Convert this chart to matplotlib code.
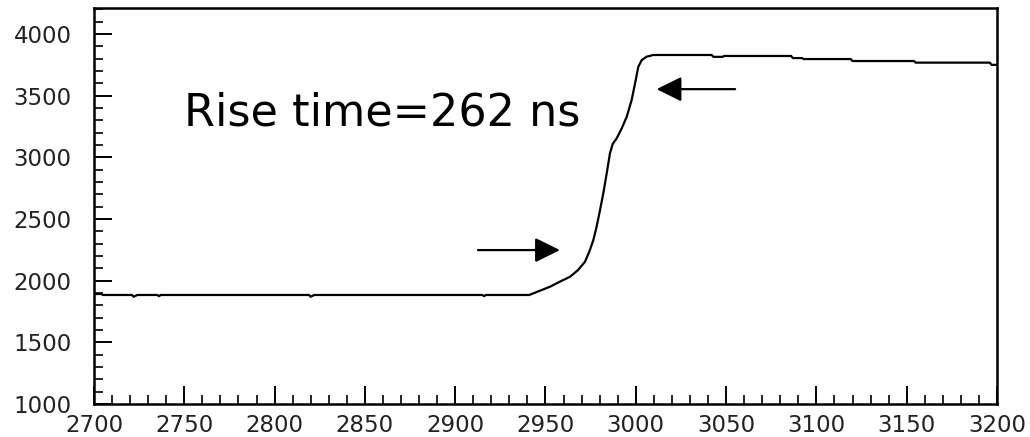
import matplotlib
matplotlib.use("Agg")
import matplotlib.pyplot as plt
from matplotlib.ticker import MultipleLocator

# Pulse waveform (time in ns, ADC amplitude)
time_ns = [2700, 2704, 2705, 2721, 2722, 2724, 2735, 2736, 2737, 2819, 2820, 2822,
           2915, 2916, 2917, 2941, 2947, 2952.5, 2958, 2963.6, 2968, 2971.9, 2974.6,
           2976.5, 2978.3, 2980.2, 2982, 2983.9, 2985.7, 2987.2, 2989.4, 2992.2,
           2995, 2997.7, 2999.6, 3001.4, 3003.3, 3006, 3009.7, 3042, 3043, 3048,
           3049, 3086, 3087, 3092, 3093, 3119, 3120, 3154, 3155, 3196, 3197, 3200]
amplitude = [1892, 1892, 1884, 1884, 1870, 1884, 1884, 1875, 1884, 1884, 1870, 1884,
             1884, 1875, 1884, 1884, 1919, 1951, 1992, 2032, 2086, 2154, 2249,
             2330, 2438, 2573, 2708, 2871, 3033, 3108, 3154, 3235,
             3330, 3465, 3600, 3735, 3789, 3816, 3830, 3830, 3815, 3815,
             3822, 3822, 3805, 3805, 3797, 3797, 3781, 3781, 3768, 3768, 3750, 3750]

x_ticks = [2700, 2750, 2800, 2850, 2900, 2950, 3000, 3050, 3100, 3150, 3200]
y_ticks = [1000, 1500, 2000, 2500, 3000, 3500, 4000]

label_text = "Rise time=262 ns"
label_pos = (2750, 3261)
# (tail, tip) of the two markers bracketing the rising edge
arrow_low = ((2912.6, 2248), (2958, 2248))
arrow_high = ((3055, 3553), (3011.5, 3553))

fig = plt.figure(figsize=(10.30, 4.37), dpi=100)
ax = fig.add_axes([94 / 1030, 33 / 437, (997 - 94) / 1030, (404 - 8) / 437])

ax.plot(time_ns, amplitude, color="black", lw=1.6, solid_joinstyle="miter")

ax.set_xlim(2700, 3200)
ax.set_ylim(1000, 4211)
ax.set_xticks(x_ticks)
ax.set_yticks(y_ticks)
ax.xaxis.set_minor_locator(MultipleLocator(10))
ax.yaxis.set_minor_locator(MultipleLocator(100))
ax.tick_params(which="major", direction="in", length=13, width=1.4, color="black",
               labelsize=16.5, top=False, right=False)
ax.tick_params(which="minor", direction="in", length=6.5, width=1.2, color="black",
               top=False, right=False)
ax.tick_params(axis="y", pad=16)
ax.tick_params(axis="x", pad=7)
for lab in ax.get_xticklabels() + ax.get_yticklabels():
    lab.set_family("DejaVu Sans")
    lab.set_color("#222222")
for sp in ax.spines.values():
    sp.set_linewidth(1.8)
    sp.set_color("black")

ax.text(label_pos[0], label_pos[1], label_text, fontsize=32, family="DejaVu Sans",
        color="black", ha="left", va="baseline")

for (tail, tip) in (arrow_low, arrow_high):
    ax.annotate("", xy=tip, xytext=tail,
                arrowprops=dict(arrowstyle="-|>,head_length=0.85,head_width=0.42",
                                color="black", lw=1.6, shrinkA=0, shrinkB=0,
                                mutation_scale=18))

fig.savefig("out.png", dpi=100)
